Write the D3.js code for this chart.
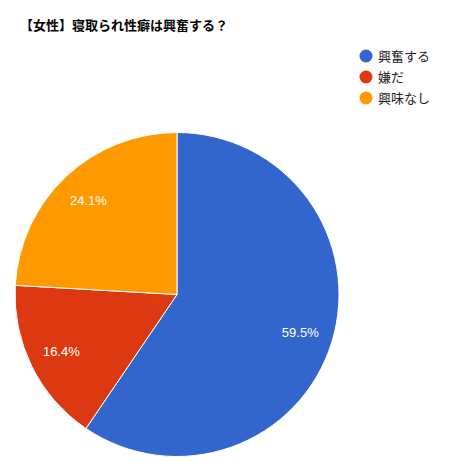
<!DOCTYPE html>
<html>
<head>
<meta charset="utf-8">
<script src="https://cdn.jsdelivr.net/npm/d3@7"></script>
<style>
  body { margin: 0; background: #fff; }
  text { font-family: Arial, "Liberation Sans", "Noto Sans CJK JP", sans-serif; }
</style>
</head>
<body>
<svg id="chart" width="451" height="473"></svg>
<script>
const categories = ["興奮する", "嫌だ", "興味なし"];
const values = [59.5, 16.4, 24.1];
const colors = ["#3366cc", "#dc3912", "#ff9900"];
const title = "【女性】寝取られ性癖は興奮する？";

const svg = d3.select("#chart");
const cx = 177, cy = 294.5, r = 162;

svg.append("text")
  .attr("x", 20).attr("y", 30)
  .style("font-size", "13px").style("font-weight", "bold")
  .style("fill", "#000")
  .text(title);

const data = categories.map((c, i) => ({ name: c, value: values[i], color: colors[i] }));
const pie = d3.pie().value(d => d.value).sort(null);
const arc = d3.arc().innerRadius(0).outerRadius(r);
const labelArc = d3.arc().innerRadius(129).outerRadius(129);

const g = svg.append("g").attr("transform", `translate(${cx},${cy})`);
const slices = pie(data);

g.selectAll("path")
  .data(slices)
  .enter().append("path")
  .attr("d", arc)
  .attr("fill", d => d.data.color)
  .attr("stroke", "#fff")
  .attr("stroke-width", 1);

g.selectAll("text.lbl")
  .data(slices)
  .enter().append("text")
  .attr("class", "lbl")
  .attr("transform", d => `translate(${labelArc.centroid(d)})`)
  .attr("text-anchor", "middle")
  .attr("dy", "0.36em")
  .style("font-size", "13px")
  .style("fill", "#fff")
  .text(d => d.data.value.toFixed(1) + "%");

const legend = svg.append("g").attr("transform", "translate(366,56)");
const items = legend.selectAll("g")
  .data(data)
  .enter().append("g")
  .attr("transform", (d, i) => `translate(0,${i * 21})`);
items.append("circle").attr("r", 6.5).attr("fill", d => d.color);
items.append("text")
  .attr("x", 12).attr("dy", "0.36em")
  .style("font-size", "13px").style("fill", "#222")
  .text(d => d.name);
</script>
</body>
</html>
